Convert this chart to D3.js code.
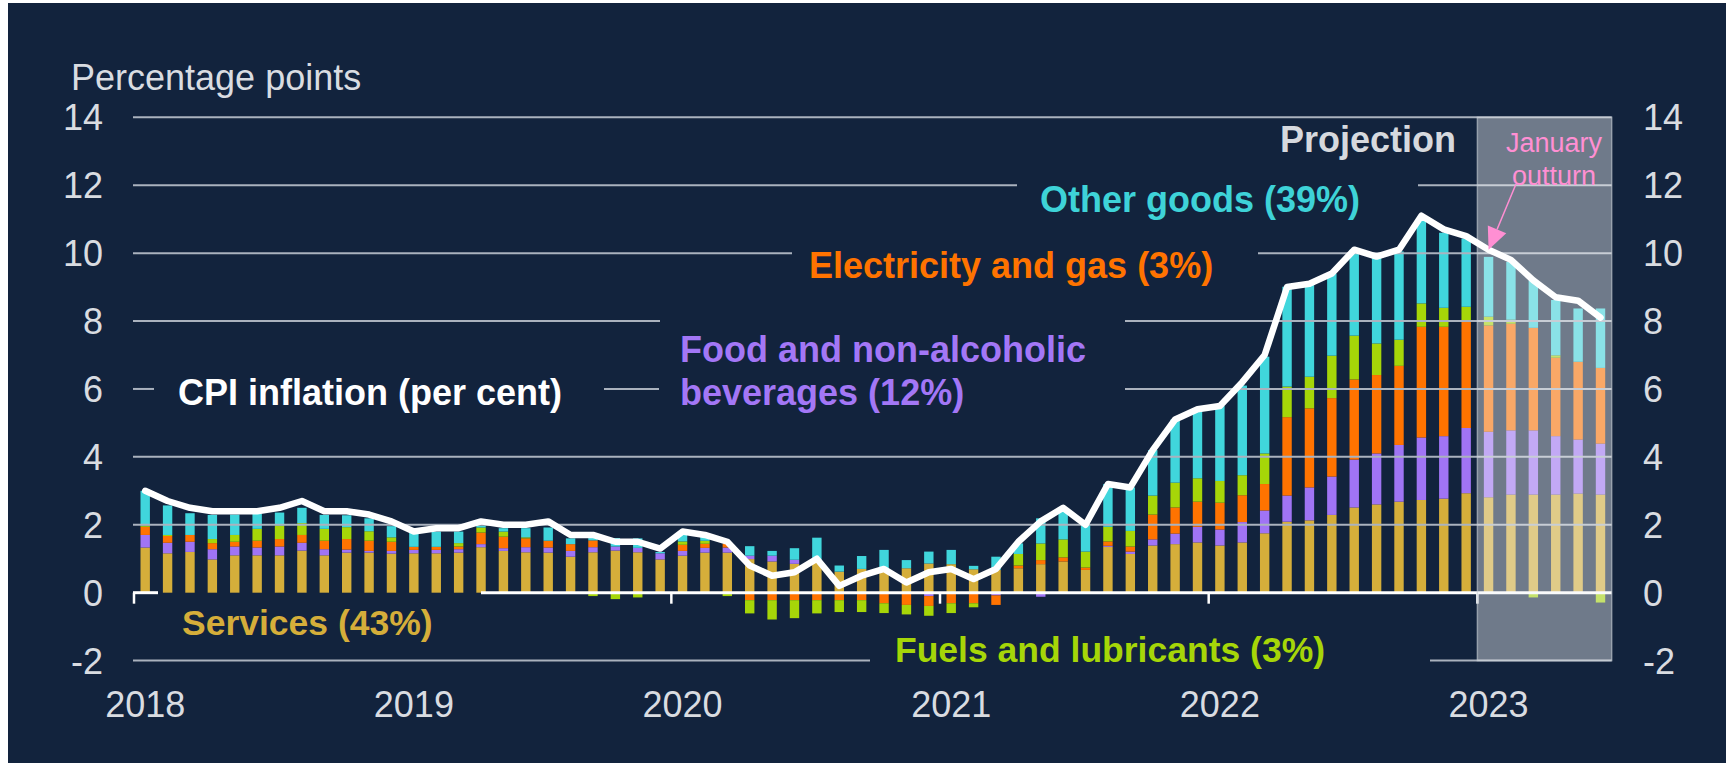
<!DOCTYPE html>
<html><head><meta charset="utf-8">
<script src="https://cdn.jsdelivr.net/npm/d3@7"></script>
<style>html,body{margin:0;padding:0;background:#fff;} svg{display:block;}</style>
</head><body>
<svg id="chart" width="1726" height="763"></svg>
<script>
// ---------------- DATA ----------------
const months = d3.utcMonth.range(new Date(Date.UTC(2018,0,1)), new Date(Date.UTC(2023,6,1))).map(d3.utcFormat("%b %Y"));
const services = [1.33,1.16,1.20,0.98,1.10,1.10,1.10,1.24,1.10,1.18,1.18,1.15,
 1.16,1.16,1.18,1.34,1.23,1.19,1.18,1.06,1.19,1.24,1.19,0.98,
 1.09,1.18,1.18,0.99,0.92,0.85,0.92,0.62,0.70,0.72,0.72,0.86,
 0.84,0.69,0.67,0.72,0.84,0.92,0.67,1.35,1.14,1.39,1.43,1.48,
 1.39,1.48,1.75,2.09,2.13,2.29,2.51,2.60,2.68,2.73,2.77,2.93,
 2.81,2.89,2.89,2.89,2.92,2.89];
const food = [0.37,0.31,0.30,0.30,0.26,0.23,0.26,0.23,0.18,0.09,0.05,0.08,
 0.10,0.10,0.10,0.09,0.08,0.15,0.15,0.17,0.15,0.12,0.13,0.18,
 0.14,0.14,0.15,0.10,0.17,0.12,0.00,0.00,0.00,0.00,0.00,-0.10,
 0.00,0.00,-0.08,0.00,-0.12,0.00,0.00,0.03,0.07,0.18,0.31,0.46,
 0.47,0.60,0.67,0.77,0.97,1.13,1.41,1.50,1.67,1.84,1.84,1.92,
 1.93,1.89,1.89,1.72,1.59,1.50];
const energy = [0.24,0.20,0.20,0.18,0.14,0.20,0.22,0.23,0.25,0.31,0.30,0.27,
 0.09,0.09,0.08,0.34,0.34,0.26,0.20,0.20,0.20,0.00,0.00,0.00,
 0.18,0.12,0.11,-0.22,-0.22,-0.22,-0.22,-0.22,-0.22,-0.31,-0.36,-0.29,
 -0.31,-0.31,-0.28,0.08,0.12,0.12,0.07,0.13,0.15,0.73,0.77,0.74,
 0.79,0.79,0.78,2.31,2.33,2.31,2.36,2.31,2.33,3.26,3.22,3.16,
 3.13,3.14,3.02,2.31,2.29,2.23];
const fuels = [0.04,0.03,0.00,0.12,0.20,0.35,0.40,0.35,0.35,0.35,0.28,0.13,
 0.00,0.00,0.10,0.15,0.15,0.03,0.00,0.00,-0.10,-0.19,-0.14,0.00,
 0.10,0.09,-0.10,-0.39,-0.57,-0.53,-0.39,-0.35,-0.35,-0.29,-0.28,-0.29,
 -0.29,-0.12,0.00,0.34,0.49,0.53,0.47,0.43,0.46,0.56,0.73,0.69,
 0.64,0.59,0.90,0.90,0.93,1.25,1.29,0.93,0.77,0.69,0.56,0.41,
 0.26,0.12,-0.14,0.07,0.00,-0.29];
const otherGoods = [1.02,0.87,0.64,0.71,0.60,0.45,0.38,0.45,0.41,0.35,0.38,0.33,
 0.43,0.45,0.34,0.05,0.10,0.27,0.39,0.17,0.07,0.25,0.28,0.04,
 0.29,0.12,0.00,0.28,0.14,0.34,0.70,0.18,0.38,0.54,0.24,0.35,
 0.42,0.10,0.39,0.31,0.74,0.90,0.79,1.26,1.28,1.34,1.86,2.03,
 2.21,2.64,2.85,2.94,2.74,2.42,2.53,2.56,2.60,2.48,2.21,2.01,
 1.76,1.70,1.40,1.63,1.57,1.75];
const cpi = [3.0,2.7,2.5,2.4,2.4,2.4,2.5,2.7,2.4,2.4,2.3,2.1,
 1.8,1.9,1.9,2.1,2.0,2.0,2.1,1.7,1.7,1.5,1.5,1.3,
 1.8,1.7,1.5,0.8,0.5,0.6,1.0,0.2,0.5,0.7,0.3,0.6,
 0.7,0.4,0.7,1.5,2.1,2.5,2.0,3.2,3.1,4.2,5.1,5.4,
 5.5,6.2,7.0,9.0,9.1,9.4,10.1,9.9,10.1,11.1,10.7,10.5,
 10.1,9.8,9.2,8.7,8.6,8.1];
const yTicks = [-2,0,2,4,6,8,10,12,14];
const yearLabels = ["2018","2019","2020","2021","2022","2023"];
const projectionStart = "Jan 2023";
const outturnMonth = "Jan 2023";

// ---------------- STYLE / LAYOUT ----------------
const keys = ["services","food","energy","fuels","other"];
const colors = {services:"#d5ae3a", food:"#a074f5", energy:"#ff7300", fuels:"#a6d608", other:"#40d6dc"};
const navy = "#12233d";
const FONT = "'Liberation Sans', Arial, Helvetica, sans-serif";
const gridGaps = { "12":[[1017,1418]], "10":[[792,1258]], "8":[[660,1125]], "6":[[154,604],[659,1125]], "0":[[158,481]], "-2":[[870,1430]] };

const svg = d3.select("#chart");
svg.append("rect").attr("x",8).attr("y",3).attr("width",1718).attr("height",760).attr("fill",navy);

const x = d3.scaleBand().domain(months).range([134,1611.7]).paddingInner(0.58).paddingOuter(0.29);
const y = d3.scaleLinear().domain([-2,14]).range([660.6,117.3]);
const xL = 133, xR = x.range()[1];
const pad = (x.step()-x.bandwidth())/2;
const cx = m => x(m)+x.bandwidth()/2;

function segments(x0,x1,gaps){
  const out=[]; let cur=x0;
  (gaps||[]).slice().sort((a,b)=>a[0]-b[0]).forEach(g=>{ if(g[0]>cur) out.push([cur,Math.min(g[0],x1)]); cur=Math.max(cur,g[1]); });
  if(cur<x1) out.push([cur,x1]);
  return out;
}

// bars
const table = months.map((m,i)=>({month:m, services:services[i], food:food[i], energy:energy[i], fuels:fuels[i], other:otherGoods[i]}));
const stacked = d3.stack().keys(keys).offset(d3.stackOffsetDiverging)(table);
svg.append("g").selectAll("g").data(stacked).join("g").attr("fill",s=>colors[s.key])
  .selectAll("rect").data(s=>s).join("rect")
  .attr("x",d=>x(d.data.month)).attr("width",x.bandwidth())
  .attr("y",d=>y(Math.max(d[0],d[1]))).attr("height",d=>Math.abs(y(d[0])-y(d[1])));

// gridlines
const grid = svg.append("g");
yTicks.filter(v=>v!==0).forEach(v=>{
  segments(xL,xR,gridGaps[String(v)]).forEach(s=>{
    grid.append("line").attr("x1",s[0]).attr("x2",s[1]).attr("y1",y(v)).attr("y2",y(v))
      .attr("stroke","#aab2be").attr("stroke-width",2);
  });
});
// zero line + year ticks
segments(xL,xR,gridGaps["0"]).forEach(s=>{
  grid.append("line").attr("x1",s[0]).attr("x2",s[1]).attr("y1",y(0)).attr("y2",y(0))
    .attr("stroke","#ffffff").attr("stroke-width",3);
});
yearLabels.forEach(yr=>{
  const bx = x("Jan "+yr)-pad;
  const hidden = gridGaps["0"].some(g=>bx>g[0]&&bx<g[1]);
  if(!hidden) grid.append("line").attr("x1",bx).attr("x2",bx).attr("y1",y(0)).attr("y2",y(0)+11)
    .attr("stroke","#ffffff").attr("stroke-width",2.5);
});

// projection shade
const px0 = x(projectionStart)-pad;
svg.append("rect").attr("x",px0).attr("y",y(14)).attr("width",xR-px0).attr("height",y(-2)-y(14))
  .attr("fill","rgba(240,242,245,0.42)").attr("stroke","rgba(200,206,214,0.6)").attr("stroke-width",1.5);

// CPI line
svg.append("path").datum(cpi).attr("fill","none").attr("stroke","#ffffff").attr("stroke-width",6.5)
  .attr("stroke-linejoin","round").attr("stroke-linecap","round")
  .attr("d",d3.line().x((d,i)=>cx(months[i])).y(d=>y(d)));

// axes labels
const tickCol = "#d9dce1";
svg.append("g").selectAll("text").data(yTicks).join("text")
  .attr("x",103).attr("y",d=>y(d)).attr("dy","0.36em").attr("text-anchor","end")
  .attr("font-family",FONT).attr("font-size",36).attr("fill",tickCol).text(d=>d);
svg.append("g").selectAll("text").data(yTicks).join("text")
  .attr("x",1643).attr("y",d=>y(d)).attr("dy","0.36em").attr("text-anchor","start")
  .attr("font-family",FONT).attr("font-size",36).attr("fill",tickCol).text(d=>d);
svg.append("g").selectAll("text").data(yearLabels).join("text")
  .attr("x",d=>cx("Jan "+d)).attr("y",716.5).attr("text-anchor","middle")
  .attr("font-family",FONT).attr("font-size",36).attr("fill",tickCol).text(d=>d);
svg.append("text").attr("x",71).attr("y",90).attr("font-family",FONT).attr("font-size",36)
  .attr("fill",tickCol).text("Percentage points");

// series labels
const labels = [
  {t:["CPI inflation (per cent)"], x:178, y:405, c:"#ffffff", s:36},
  {t:["Food and non-alcoholic","beverages (12%)"], x:680, y:361.5, c:"#a377f6", s:36},
  {t:["Electricity and gas (3%)"], x:809, y:278, c:"#ff7300", s:36},
  {t:["Other goods (39%)"], x:1040, y:211.5, c:"#3ed3d8", s:36},
  {t:["Services (43%)"], x:182, y:635, c:"#d5ae3a", s:35.5},
  {t:["Fuels and lubricants (3%)"], x:895, y:661.5, c:"#a6d608", s:35.5},
  {t:["Projection"], x:1280, y:152, c:"#d6d9de", s:36}
];
labels.forEach(l=>{
  const t = svg.append("text").attr("font-family",FONT).attr("font-size",l.s).attr("font-weight","bold").attr("fill",l.c);
  l.t.forEach((s,i)=>t.append("tspan").attr("x",l.x).attr("y",l.y+i*43.5).text(s));
});

// January outturn annotation
const tipX = cx(outturnMonth), tipY = y(cpi[months.indexOf(outturnMonth)]);
const sX = 1516, sY = 184;
const ang = Math.atan2(tipY-sY, tipX-sX);
const hl = 22, hw = 10;
const bx = tipX - hl*Math.cos(ang), by = tipY - hl*Math.sin(ang);
svg.append("line").attr("x1",sX).attr("y1",sY).attr("x2",bx).attr("y2",by).attr("stroke","#ff8fd3").attr("stroke-width",1.5);
svg.append("path").attr("fill","#ff8fd3")
  .attr("d",`M${tipX},${tipY}L${bx+hw*Math.sin(ang)},${by-hw*Math.cos(ang)}L${bx-hw*Math.sin(ang)},${by+hw*Math.cos(ang)}Z`);
const jt = svg.append("text").attr("font-family",FONT).attr("font-size",27).attr("fill","#ff8fd3").attr("text-anchor","middle");
jt.append("tspan").attr("x",1554).attr("y",151.5).text("January");
jt.append("tspan").attr("x",1554).attr("y",185).text("outturn");
</script>
</body></html>
